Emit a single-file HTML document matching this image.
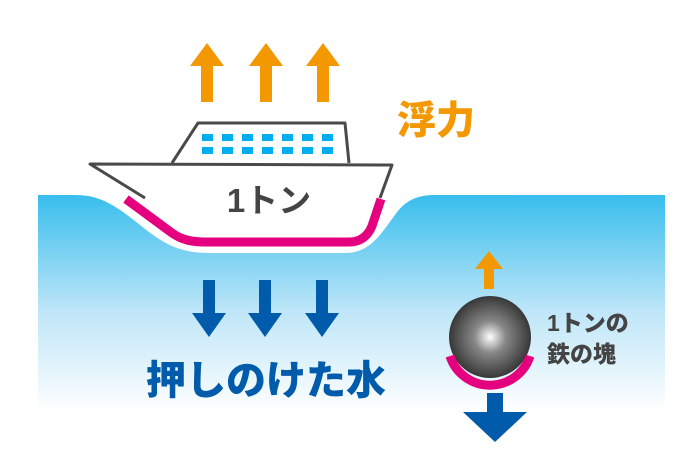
<!DOCTYPE html>
<html><head><meta charset="utf-8"><style>
html,body{margin:0;padding:0;background:#fff;width:700px;height:476px;overflow:hidden}
</style></head><body>
<svg width="700" height="476" viewBox="0 0 700 476" xmlns="http://www.w3.org/2000/svg">
<defs>
<linearGradient id="w" gradientUnits="userSpaceOnUse" x1="0" y1="190" x2="0" y2="412">
<stop offset="0" stop-color="#32bcec"/><stop offset="0.55" stop-color="#bfe6f8"/><stop offset="1" stop-color="#ffffff"/>
</linearGradient>
<radialGradient id="b" cx="0.5" cy="0.5" r="0.55">
<stop offset="0" stop-color="#ffffff"/><stop offset="0.35" stop-color="#888"/><stop offset="1" stop-color="#2a2a2a"/>
</radialGradient>
</defs>
<path d="M38,195 L75,195 C100,195 115,205 140,225 C165,245 180,253 210,253 L345,253 C370,253 380,235 395,215 C405,200 418,195 435,195 L665,195 L665,420 L38,420 Z" fill="url(#w)"/>
<path d="M172,163 L198,123 L345,123 L349,163" fill="#fff" stroke="#4a4a4a" stroke-width="3" stroke-linejoin="round"/>
<g fill="#00aeef">
<rect x="202" y="134" width="11" height="7"/><rect x="222" y="134" width="11" height="7"/><rect x="242" y="134" width="11" height="7"/><rect x="262" y="134" width="11" height="7"/><rect x="282" y="134" width="11" height="7"/><rect x="302" y="134" width="11" height="7"/><rect x="322" y="134" width="11" height="7"/>
<rect x="202" y="147" width="11" height="7"/><rect x="222" y="147" width="11" height="7"/><rect x="242" y="147" width="11" height="7"/><rect x="262" y="147" width="11" height="7"/><rect x="282" y="147" width="11" height="7"/><rect x="302" y="147" width="11" height="7"/><rect x="322" y="147" width="11" height="7"/>
</g>
<path d="M90,164 L392,165 L380,200 L370,230 C365,240 358,242 350,242 L205,242 C190,242 180,236 172,230 L140,200 Z" fill="#fff"/>
<path d="M126,199 L172,233 C182,240 192,242 205,242 L350,242 C360,242 368,236 372,226 L381,199" fill="none" stroke="#e4007f" stroke-width="9"/>
<path d="M145,198 L90,164 L392,165 L380,198" fill="none" stroke="#4a4a4a" stroke-width="3" stroke-linejoin="round"/>
<text x="269" y="212" font-family="Liberation Sans, Noto Sans CJK JP, sans-serif" font-weight="bold" font-size="33" fill="#444" text-anchor="middle">1トン</text>
<g fill="#f39800">
<path d="M201,102 h12 v-36 h11 l-17,-23 l-17,23 h11 z"/>
<path d="M260,102 h12 v-36 h11 l-17,-23 l-17,23 h11 z"/>
<path d="M317,102 h12 v-36 h11 l-17,-23 l-17,23 h11 z"/>
<path d="M484,289 h10 v-20 h9 l-14,-18 l-14,18 h9 z"/>
</g>
<text x="397" y="134" font-family="Liberation Sans, Noto Sans CJK JP, sans-serif" font-weight="900" font-size="39" fill="#f39800">浮力</text>
<g fill="#005bab">
<path d="M203,280 h12 v33 h11 l-17,24 l-17,-24 h11 z"/>
<path d="M259,280 h12 v33 h11 l-17,24 l-17,-24 h11 z"/>
<path d="M316,280 h12 v33 h11 l-17,24 l-17,-24 h11 z"/>
<path d="M487,393 h16 v19 h24 l-32,30 l-32,-30 h24 z"/>
</g>
<text x="146" y="394" font-family="Liberation Sans, Noto Sans CJK JP, sans-serif" font-weight="900" font-size="40" fill="#005bab">押しのけた水</text>
<circle cx="490" cy="337" r="41" fill="url(#b)"/>
<path d="M450,356 A42,42 0 0 0 530,356" fill="none" stroke="#e4007f" stroke-width="9"/>
<text x="547" y="331" font-family="Liberation Sans, Noto Sans CJK JP, sans-serif" font-weight="900" font-size="23" fill="#444">1トンの</text>
<text x="547" y="362" font-family="Liberation Sans, Noto Sans CJK JP, sans-serif" font-weight="900" font-size="23" fill="#444">鉄の塊</text>
</svg>
</body></html>
